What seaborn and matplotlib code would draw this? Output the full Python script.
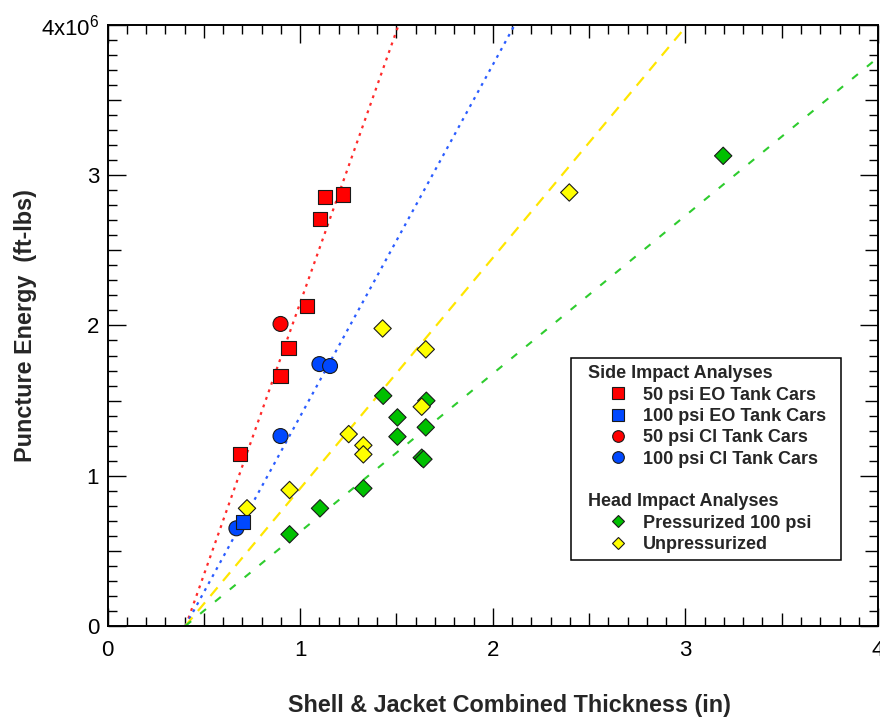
import matplotlib
matplotlib.use("Agg")
import matplotlib.pyplot as plt
from matplotlib.lines import Line2D
from matplotlib.ticker import MultipleLocator
import numpy as np
import pandas as pd
import seaborn as sns

# ---- data: combined shell + jacket thickness (in) vs. puncture energy (ft-lbs) ----
# Side impact analyses
eo50_thk = [0.686, 0.898, 0.939, 1.036, 1.102, 1.128, 1.222]
eo50_energy = [1.144e6, 1.663e6, 1.850e6, 2.130e6, 2.708e6, 2.857e6, 2.872e6]
eo100_thk = [0.703]
eo100_energy = [0.694e6]
cl50_thk = [0.898]
cl50_energy = [2.010e6]
cl100_thk = [0.669, 0.898, 1.100, 1.155]
cl100_energy = [0.650e6, 1.264e6, 1.743e6, 1.730e6]
# Head impact analyses
press_thk = [0.945, 1.103, 1.328, 1.431, 1.505, 1.505, 1.652, 1.655, 1.631, 1.640, 3.196]
press_energy = [0.610e6, 0.783e6, 0.916e6, 1.532e6, 1.388e6, 1.260e6, 1.322e6,
                1.499e6, 1.120e6, 1.110e6, 3.129e6]
unpress_thk = [0.724, 0.945, 1.252, 1.328, 1.328, 1.428, 1.631, 1.652, 2.397]
unpress_energy = [0.783e6, 0.905e6, 1.277e6, 1.202e6, 1.142e6, 1.980e6, 1.459e6,
                  1.841e6, 2.885e6]

# Trend lines: thickness at zero energy and slope (ft-lbs per inch)
trend_names = ["eo50", "eo100", "unpress", "press"]
trend_x0 = [0.406, 0.404, 0.404, 0.404]
trend_slope = [3.62e6, 2.34e6, 1.535e6, 1.052e6]

# Axis ticks
x_ticks = [0, 1, 2, 3, 4]
x_tick_labels = ["0", "1", "2", "3", "4"]
y_ticks = [0, 1e6, 2e6, 3e6, 4e6]
y_tick_labels = ["0", "1", "2", "3", r"4x10$^{6}$"]

legend_side_title = "Side Impact Analyses"
legend_head_title = "Head Impact Analyses"
series_labels = {
    "eo50": "50 psi EO Tank Cars",
    "eo100": "100 psi EO Tank Cars",
    "cl50": "50 psi Cl Tank Cars",
    "cl100": "100 psi Cl Tank Cars",
    "press": "Pressurized 100 psi",
    "unpress": "Unpressurized",
}

# ---- styling ----
sns.set_style("white")
plt.rcParams["font.family"] = ["Liberation Sans", "DejaVu Sans"]
plt.rcParams["mathtext.fontset"] = "custom"
plt.rcParams["mathtext.rm"] = "Liberation Sans"
plt.rcParams["mathtext.it"] = "Liberation Sans"
plt.rcParams["mathtext.default"] = "regular"

RED, BLUE, GREEN, YELLOW = "#FF0000", "#0048FF", "#00C000", "#FFFF00"
marker_colors = {"eo50": RED, "eo100": BLUE, "cl50": RED, "cl100": BLUE,
                 "press": GREEN, "unpress": YELLOW}
marker_shapes = {"eo50": "s", "eo100": "s", "cl50": "o", "cl100": "o",
                 "press": "D", "unpress": "D"}
marker_sizes = {"eo50": 106, "eo100": 106, "cl50": 116, "cl100": 116,
                "press": 78, "unpress": 78}
line_styles = {
    "eo50": dict(color="#FF2A2A", dashes=(1.3, 2.3), lw=1.6),
    "eo100": dict(color="#2A5CFF", dashes=(1.3, 2.3), lw=1.6),
    "unpress": dict(color="#FFE600", dashes=(5.0, 3.8), lw=1.6),
    "press": dict(color="#2ECC2E", dashes=(3.6, 5.6), lw=1.5),
}

fig = plt.figure(figsize=(8.8, 7.21), dpi=100)
ax = fig.add_axes([0.1222, 0.1318, 0.8756, 0.8336])

# trend lines
for name, x0, m in zip(trend_names, trend_x0, trend_slope):
    xs = np.array([x0, 4.0])
    ys = m * (xs - x0)
    st = line_styles[name]
    ax.plot(xs, ys, color=st["color"], lw=st["lw"], dashes=st["dashes"],
            dash_capstyle="butt", zorder=2)

# scatter points (row order sets drawing order)
series = [
    ("press", press_thk, press_energy),
    ("unpress", unpress_thk, unpress_energy),
    ("cl100", cl100_thk, cl100_energy),
    ("cl50", cl50_thk, cl50_energy),
    ("eo50", eo50_thk, eo50_energy),
    ("eo100", eo100_thk, eo100_energy),
]
df = pd.concat([pd.DataFrame({"thickness": xs, "energy": ys, "series": name})
                for name, xs, ys in series], ignore_index=True)
sns.scatterplot(data=df, x="thickness", y="energy", hue="series", style="series",
                size="series", palette=marker_colors, markers=marker_shapes,
                sizes=marker_sizes, edgecolor="#1a1a1a", linewidth=0.8,
                legend=False, ax=ax, zorder=3)

# axes limits and ticks
ax.set_xlim(0, 4)
ax.set_ylim(0, 4e6)
ax.set_xticks(x_ticks, labels=x_tick_labels)
ax.set_yticks(y_ticks, labels=y_tick_labels)
ax.xaxis.set_minor_locator(MultipleLocator(0.1))
ax.yaxis.set_minor_locator(MultipleLocator(0.1e6))
ax.tick_params(which="both", direction="in", bottom=True, left=True,
               top=True, right=True, width=1.0, color="black",
               labelsize=16, labelcolor="black")
ax.tick_params(which="major", length=13)
ax.tick_params(which="minor", length=6.5)
ax.tick_params(axis="x", which="major", pad=10)
ax.tick_params(axis="y", which="major", pad=6)
for sp in ax.spines.values():
    sp.set_linewidth(1.4)
    sp.set_color("black")


def lengthen_half_ticks(axis, unit, length):
    locs = axis.get_minorticklocs()
    ticks = axis.get_minor_ticks(len(locs))
    for loc, tk in zip(locs, ticks):
        frac = (loc / unit) % 1.0
        if abs(frac - 0.5) < 1e-6:
            tk.tick1line.set_markersize(length)
            tk.tick2line.set_markersize(length)


lengthen_half_ticks(ax.xaxis, 1.0, 9.5)
lengthen_half_ticks(ax.yaxis, 1e6, 9.5)

label_font = dict(family="Liberation Sans", weight="bold", size=16.8)
ax.set_xlabel("Shell & Jacket Combined Thickness (in)", fontdict=label_font)
ax.set_ylabel("Puncture Energy  (ft-lbs)", fontdict=label_font)
ax.xaxis.set_label_coords(0.522, -0.114)
ax.yaxis.set_label_coords(-0.092, 0.5)


# legend with two section headers
def blank():
    return Line2D([], [], linestyle="none")


def mk(shape, color, ms):
    return Line2D([], [], linestyle="none", marker=shape, markersize=ms,
                  markerfacecolor=color, markeredgecolor="#1a1a1a",
                  markeredgewidth=0.8)


handles = [blank(),
           mk("s", RED, 8.1), mk("s", BLUE, 8.1), mk("o", RED, 8.4), mk("o", BLUE, 8.4),
           blank(), blank(),
           mk("D", GREEN, 5.8), mk("D", YELLOW, 5.8)]
labels = [legend_side_title,
          series_labels["eo50"], series_labels["eo100"],
          series_labels["cl50"], series_labels["cl100"],
          " ", legend_head_title,
          series_labels["press"], series_labels["unpress"]]
leg = ax.legend(handles, labels, loc="upper left",
                bbox_to_anchor=(571 / 880, 1 - 358 / 721),
                bbox_transform=fig.transFigure,
                prop=dict(family="Liberation Sans", weight="bold", size=13),
                frameon=True, fancybox=False, shadow=False, framealpha=1,
                edgecolor="black", borderpad=0.4, labelspacing=0.24,
                handlelength=4.4, handletextpad=-0.8, borderaxespad=0,
                numpoints=1)
leg.get_frame().set_linewidth(1.1)
leg.set_zorder(5)
for idx in (0, 6):
    leg.get_texts()[idx].set_x(-55)

fig.savefig("out.png", dpi=100, facecolor="white")
